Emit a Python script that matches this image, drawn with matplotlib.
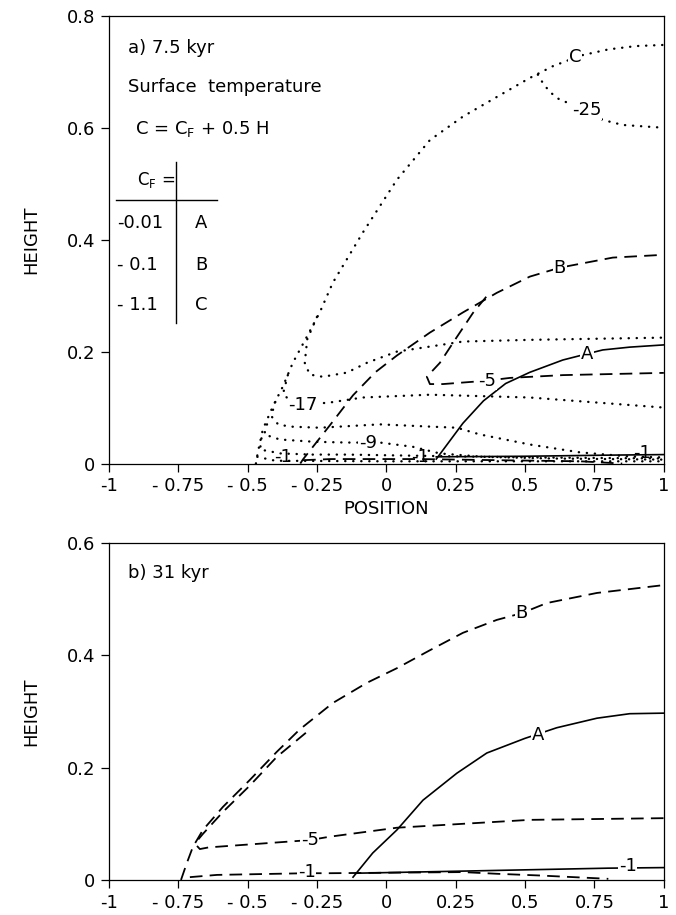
import numpy as np
import matplotlib.pyplot as plt

plt.rcParams['font.family'] = 'DejaVu Sans'
plt.rcParams['mathtext.default'] = 'regular'

xticks = [-1, -0.75, -0.5, -0.25, 0, 0.25, 0.5, 0.75, 1]
xticklabels = ['-1', '- 0.75', '- 0.5', '- 0.25', '0', '0.25', '0.5', '0.75', '1']

# ---- panel a) 7.5 kyr ----
# surfaces
a_surf_x = [0.18, 0.276, 0.35, 0.43, 0.517, 0.636, 0.723, 0.780, 0.877, 1.0]
a_surf_y = [0.008, 0.072, 0.112, 0.143, 0.163, 0.185, 0.196, 0.203, 0.208, 0.212]
b_surf_x = [-0.31, -0.301, -0.204, -0.12, -0.04, 0.038, 0.157, 0.276, 0.398, 0.517, 0.625, 0.816, 1.0]
b_surf_y = [0.0, 0.007, 0.068, 0.122, 0.163, 0.193, 0.234, 0.270, 0.305, 0.334, 0.350, 0.368, 0.373]
c_surf_x = [-0.47, -0.463, -0.445, -0.409, -0.373, -0.337, -0.286, -0.240, -0.193, -0.085,
            0.038, 0.157, 0.276, 0.398, 0.517, 0.60, 0.70, 0.80, 0.90, 1.0]
c_surf_y = [0.0, 0.02, 0.061, 0.102, 0.1375, 0.18, 0.227, 0.270, 0.323, 0.4125,
            0.507, 0.578, 0.620, 0.655, 0.689, 0.710, 0.729, 0.740, 0.746, 0.748]

# temperature contours, case C (dotted)
c25_x = [0.546, 0.564, 0.589, 0.625, 0.723, 0.780, 0.852, 1.0]
c25_y = [0.695, 0.680, 0.664, 0.650, 0.632, 0.614, 0.605, 0.600]
c21_x = [-0.25, -0.285, -0.294, -0.276, -0.229, -0.142, -0.07, 0.038, 0.276, 0.517, 1.0]
c21_y = [0.262, 0.222, 0.180, 0.159, 0.155, 0.1625, 0.180, 0.200, 0.218, 0.221, 0.225]
c17_x = [-0.355, -0.372, -0.34, -0.30, -0.204, -0.085, 0.157, 0.517, 1.0]
c17_y = [0.158, 0.125, 0.108, 0.105, 0.109, 0.118, 0.123, 0.118, 0.100]
c13_x = [-0.40, -0.415, -0.39, -0.348, -0.24, -0.023, 0.157, 0.254, 0.337, 0.517, 0.697, 0.877, 1.0]
c13_y = [0.11, 0.085, 0.07, 0.066, 0.064, 0.070, 0.066, 0.064, 0.052, 0.034, 0.020, 0.0125, 0.011]
c9_x = [-0.43, -0.44, -0.384, -0.265, -0.142, -0.023, 0.095, 0.193, 0.35, 0.6, 1.0]
c9_y = [0.07, 0.052, 0.043, 0.039, 0.0375, 0.0375, 0.030, 0.018, 0.012, 0.009, 0.007]
c5_x = [-0.45, -0.455, -0.38, -0.265, -0.142, 0.1, 0.5, 1.0]
c5_y = [0.045, 0.025, 0.018, 0.016, 0.016, 0.014, 0.011, 0.009]
c1_x = [-0.465, -0.4, 0.0, 0.5, 1.0]
c1_y = [0.012, 0.005, 0.004, 0.004, 0.004]

# case B (dashed)
b5_x = [0.36, 0.312, 0.254, 0.193, 0.146, 0.157, 0.204, 0.362, 0.445, 0.636, 1.0]
b5_y = [0.298, 0.269, 0.226, 0.180, 0.155, 0.142, 0.142, 0.148, 0.153, 0.158, 0.162]
b1_x = [-0.30, -0.2, 0.0, 0.12, 0.4, 0.7, 0.85]
b1_y = [0.006, 0.008, 0.008, 0.008, 0.006, 0.004, 0.0]

# case A (solid)
a1_x = [0.18, 0.5, 0.8, 1.0]
a1_y = [0.012, 0.013, 0.015, 0.016]

# ---- panel b) 31 kyr ----
a_surf2_x = [-0.12, -0.049, 0.038, 0.132, 0.254, 0.362, 0.499, 0.614, 0.759, 0.877, 1.0]
a_surf2_y = [0.005, 0.048, 0.089, 0.142, 0.190, 0.226, 0.252, 0.271, 0.288, 0.296, 0.297]
b_surf2_x = [-0.74, -0.719, -0.697, -0.661, -0.589, -0.492, -0.395, -0.312, -0.193, -0.070,
             0.038, 0.157, 0.276, 0.398, 0.488, 0.578, 0.759, 1.0]
b_surf2_y = [0.0, 0.030, 0.059, 0.089, 0.130, 0.178, 0.228, 0.268, 0.315, 0.351,
             0.377, 0.409, 0.440, 0.463, 0.475, 0.493, 0.511, 0.525]
b5_2_x = [-0.29, -0.395, -0.492, -0.589, -0.661, -0.678, -0.685, -0.672, -0.64, -0.5, -0.276,
          -0.204, 0.038, 0.517, 1.0]
b5_2_y = [0.262, 0.219, 0.168, 0.121, 0.082, 0.072, 0.062, 0.055, 0.058, 0.063, 0.071,
          0.077, 0.093, 0.107, 0.110]
b1_2_x = [-0.708, -0.61, -0.287, -0.204, 0.276, 0.398, 0.55, 0.8]
b1_2_y = [0.005, 0.009, 0.012, 0.012, 0.014, 0.011, 0.008, 0.002]
a1_2_x = [-0.11, 0.3, 0.8, 1.0]
a1_2_y = [0.012, 0.016, 0.021, 0.022]

solid = dict(color='black', lw=1.2, linestyle='-')
dashed = dict(color='black', lw=1.3, linestyle=(0, (7, 4)))
dotted = dict(color='black', lw=1.7, linestyle=(0, (0.1, 3.3)), dash_capstyle='round')
# labels sit below the spines (zorder 2.5) so their white box only breaks the curves
lab = dict(fontsize=13, ha='center', va='center', zorder=2.4,
           bbox=dict(facecolor='white', edgecolor='none', pad=0.5))

fig = plt.figure(figsize=(6.76, 9.15), dpi=100)
ax1 = fig.add_axes([0.161, 0.4934, 0.821, 0.4893])
ax2 = fig.add_axes([0.161, 0.0383, 0.821, 0.3683])

# panel a
ax1.plot(c_surf_x, c_surf_y, **dotted)
for xs, ys in [(c25_x, c25_y), (c21_x, c21_y), (c17_x, c17_y), (c13_x, c13_y),
               (c9_x, c9_y), (c5_x, c5_y), (c1_x, c1_y)]:
    ax1.plot(xs, ys, **dotted)
ax1.plot(b_surf_x, b_surf_y, **dashed)
ax1.plot(b5_x, b5_y, **dashed)
ax1.plot(b1_x, b1_y, **dashed)
ax1.plot(a_surf_x, a_surf_y, **solid)
ax1.plot(a1_x, a1_y, **solid)

ax1.text(0.679, 0.727, 'C', **lab)
ax1.text(0.723, 0.632, '-25', **lab)
ax1.text(0.625, 0.350, 'B', **lab)
ax1.text(0.723, 0.196, 'A', **lab)
ax1.text(0.362, 0.148, '-5', **lab)
ax1.text(-0.30, 0.105, '-17', **lab)
ax1.text(-0.067, 0.0375, '-9', **lab)
ax1.text(-0.373, 0.012, '-1', fontsize=13, ha='center', va='center')
ax1.text(0.121, 0.012, '-1', fontsize=13, ha='center', va='center')
ax1.text(0.921, 0.018, '-1', fontsize=13, ha='center', va='center')

# legend block
ax1.text(-0.93, 0.743, 'a) 7.5 kyr', fontsize=13, va='center')
ax1.text(-0.93, 0.673, 'Surface  temperature', fontsize=13, va='center')
ax1.text(-0.906, 0.597, 'C = C$_F$ + 0.5 H', fontsize=13, va='center')
ax1.text(-0.899, 0.507, 'C$_F$ =', fontsize=12, va='center')
ax1.plot([-0.975, -0.611], [0.471, 0.471], color='black', lw=1)
ax1.plot([-0.759, -0.759], [0.539, 0.251], color='black', lw=1)
rows = [('-0.01', 'A'), ('- 0.1', 'B'), ('- 1.1', 'C')]
row_y = [0.430, 0.355, 0.284]
for (cf, case), yy in zip(rows, row_y):
    ax1.text(-0.971, yy, cf, fontsize=13, va='center')
    ax1.text(-0.668, yy, case, fontsize=13, va='center', ha='center')

ax1.set_ylim(0, 0.8)
ax1.set_yticks([0, 0.2, 0.4, 0.6, 0.8])
ax1.set_yticklabels(['0', '0.2', '0.4', '0.6', '0.8'])
ax1.set_xlabel('POSITION', fontsize=13, labelpad=3)

# panel b
ax2.plot(b_surf2_x, b_surf2_y, **dashed)
ax2.plot(b5_2_x, b5_2_y, **dashed)
ax2.plot(b1_2_x, b1_2_y, **dashed)
ax2.plot(a_surf2_x, a_surf2_y, **solid)
ax2.plot(a1_2_x, a1_2_y, **solid)
ax2.text(0.488, 0.475, 'B', **lab)
ax2.text(0.546, 0.258, 'A', **lab)
ax2.text(-0.276, 0.071, '-5', **lab)
ax2.text(-0.287, 0.014, '-1', **lab)
ax2.text(0.87, 0.024, '-1', **lab)
ax2.text(-0.93, 0.547, 'b) 31 kyr', fontsize=13, va='center')
ax2.set_ylim(0, 0.6)
ax2.set_yticks([0, 0.2, 0.4, 0.6])
ax2.set_yticklabels(['0', '0.2', '0.4', '0.6'])

for ax in (ax1, ax2):
    ax.set_xlim(-1, 1)
    ax.set_xticks(xticks)
    ax.set_xticklabels(xticklabels)
    ax.tick_params(direction='out', length=6, width=0.9, labelsize=13, pad=4)
    ax.set_ylabel('HEIGHT', fontsize=13, labelpad=19)
    for s in ax.spines.values():
        s.set_linewidth(0.9)

fig.savefig('out.png', dpi=100, facecolor='white')
